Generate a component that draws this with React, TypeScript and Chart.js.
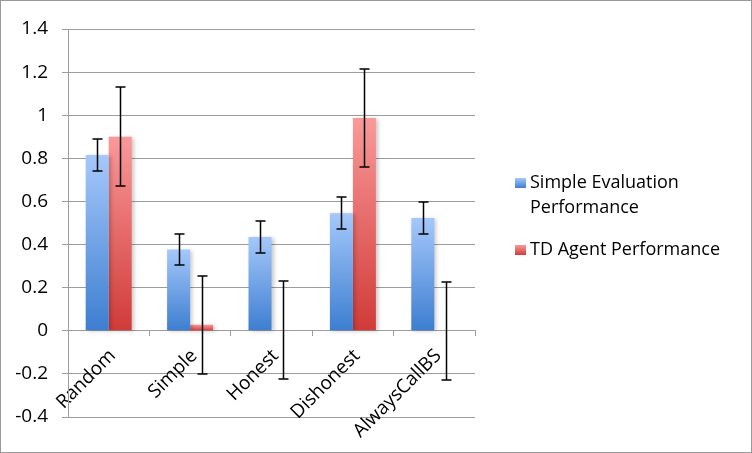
import { useEffect, useRef } from "react";
import { Chart, registerables } from "chart.js";

Chart.register(...registerables);

const categories = ["Random", "Simple", "Honest", "Dishonest", "AlwaysCallBS"];
const simpleEval = [0.815, 0.377, 0.435, 0.545, 0.523];
const simpleEvalErr = [0.074, 0.074, 0.075, 0.074, 0.075];
const tdAgent = [0.9, 0.028, 0.003, 0.987, 0];
const tdAgentErr = [0.229, 0.228, 0.228, 0.229, 0.228];
const yTicks = [-0.4, -0.2, 0, 0.2, 0.4, 0.6, 0.8, 1, 1.2, 1.4];

const BLUE = ["#a5c8fb", "#3d7ed0"];
const RED = ["#fa9999", "#d03b38"];
const GRID = "#9c9c9c";
const FONT = "'Open Sans', 'DejaVu Sans', sans-serif";

// vertical gradient per bar, light at the top, dark at the zero line
function barFill(colors: string[]) {
  return (c: any) => {
    const chart = c.chart;
    if (!chart.chartArea || c.raw == null) return colors[1];
    const y = chart.scales.y;
    const top = y.getPixelForValue(c.raw);
    const base = y.getPixelForValue(0);
    if (Math.abs(base - top) < 1) return colors[0];
    const g = chart.ctx.createLinearGradient(0, top, 0, base);
    g.addColorStop(0, colors[0]);
    g.addColorStop(1, colors[1]);
    return g;
  };
}

const barShadow = {
  id: "barShadow",
  beforeDatasetDraw(chart: any) {
    const ctx = chart.ctx;
    ctx.save();
    ctx.shadowColor = "rgba(0,0,0,0.22)";
    ctx.shadowBlur = 4;
    ctx.shadowOffsetX = 2;
    ctx.shadowOffsetY = 1;
  },
  afterDatasetDraw(chart: any) {
    chart.ctx.restore();
  },
};

const errorBars = {
  id: "errorBars",
  afterDatasetsDraw(chart: any) {
    const { ctx } = chart;
    const y = chart.scales.y;
    ctx.save();
    ctx.strokeStyle = "#000";
    ctx.lineWidth = 1.5;
    chart.data.datasets.forEach((ds: any, di: number) => {
      const meta = chart.getDatasetMeta(di);
      meta.data.forEach((bar: any, i: number) => {
        const v = ds.data[i];
        const e = ds.errors[i];
        const x = Math.round(bar.x) + 0.5;
        const top = Math.round(y.getPixelForValue(v + e));
        const bot = Math.round(y.getPixelForValue(v - e));
        ctx.beginPath();
        ctx.moveTo(x, top);
        ctx.lineTo(x, bot);
        ctx.moveTo(x - 5, top);
        ctx.lineTo(x + 5, top);
        ctx.moveTo(x - 5, bot);
        ctx.lineTo(x + 5, bot);
        ctx.stroke();
      });
    });
    ctx.restore();
  },
};

const legendItems = [
  { lines: ["Simple Evaluation", "Performance"], colors: BLUE, top: 169 },
  { lines: ["TD Agent Performance"], colors: RED, top: 236 },
];

export default function App() {
  const canvasRef = useRef<HTMLCanvasElement>(null);

  useEffect(() => {
    document.body.style.margin = "0";
    if (!canvasRef.current) return;

    const chart = new Chart(canvasRef.current, {
      type: "bar",
      data: {
        labels: categories,
        datasets: [
          {
            label: "Simple Evaluation Performance",
            data: simpleEval,
            errors: simpleEvalErr,
            backgroundColor: barFill(BLUE),
            borderWidth: 0,
          } as any,
          {
            label: "TD Agent Performance",
            data: tdAgent,
            errors: tdAgentErr,
            backgroundColor: barFill(RED),
            borderWidth: 0,
          } as any,
        ],
      },
      options: {
        responsive: false,
        animation: false,
        devicePixelRatio: 1,
        layout: { padding: { left: 0, right: 277, top: 29, bottom: 36 } },
        datasets: {
          bar: { categoryPercentage: 0.565, barPercentage: 1 },
        },
        plugins: {
          legend: { display: false },
          tooltip: { enabled: false },
        },
        scales: {
          x: {
            position: { y: 0 } as any,
            grid: {
              drawOnChartArea: false,
              drawTicks: true,
              tickLength: 5,
              color: GRID,
              offset: true,
            },
            border: { display: true, color: GRID, width: 1 },
            ticks: {
              minRotation: 45,
              maxRotation: 45,
              padding: 9,
              labelOffset: 4,
              color: "#000",
              font: { family: FONT, size: 19 },
            },
          },
          y: {
            min: -0.4,
            max: 1.4,
            afterFit: (s: any) => {
              s.width = 68;
            },
            afterBuildTicks: (s: any) => {
              s.ticks = yTicks.map((v) => ({ value: v }));
            },
            grid: { color: GRID, tickLength: 6, lineWidth: 1 },
            border: { display: true, color: GRID, width: 1 },
            ticks: {
              padding: 14,
              color: "#000",
              font: { family: FONT, size: 19 },
              callback: (v: any) => String(Number(Number(v).toFixed(1))),
            },
          },
        },
      } as any,
      plugins: [barShadow, errorBars],
    });

    return () => chart.destroy();
  }, []);

  return (
    <div
      style={{
        position: "relative",
        width: 752,
        height: 453,
        boxSizing: "border-box",
        border: "1px solid #9a9a9a",
        background: "#fff",
        fontFamily: FONT,
      }}
    >
      <canvas
        ref={canvasRef}
        width={752}
        height={453}
        style={{ position: "absolute", left: -1, top: -1 }}
      />
      {legendItems.map((it) => (
        <div
          key={it.lines[0]}
          style={{ position: "absolute", left: 514, top: it.top - 1 }}
        >
          <div
            style={{
              position: "absolute",
              left: 0,
              top: 9,
              width: 11,
              height: 10,
              background: `linear-gradient(${it.colors[0]}, ${it.colors[1]})`,
            }}
          />
          <div
            style={{
              marginLeft: 15,
              fontSize: 18,
              lineHeight: "25px",
              color: "#000",
              whiteSpace: "nowrap",
            }}
          >
            {it.lines.map((l) => (
              <div key={l}>{l}</div>
            ))}
          </div>
        </div>
      ))}
    </div>
  );
}
